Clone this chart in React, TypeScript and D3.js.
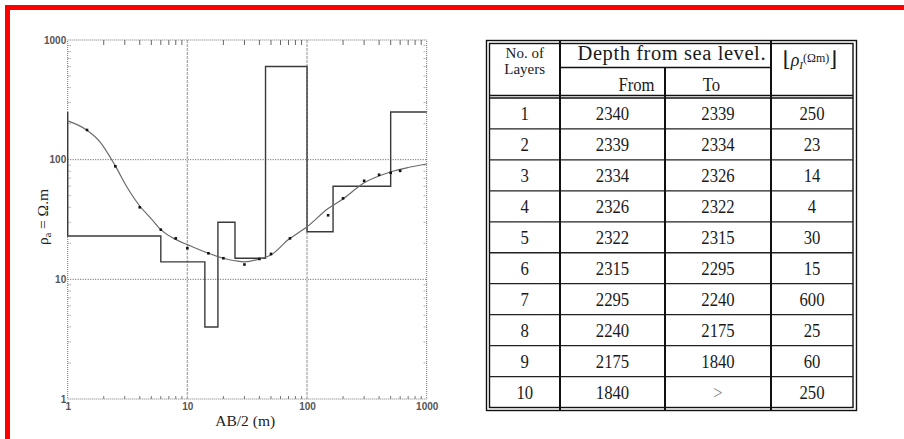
import React, { useEffect, useRef } from "react";
import * as d3 from "d3";

// layer table (interpreted model)
const layerNo = [1, 2, 3, 4, 5, 6, 7, 8, 9, 10];
const depthFrom = [2340, 2339, 2334, 2326, 2322, 2315, 2295, 2240, 2175, 1840];
const depthTo = ["2339", "2334", "2326", "2322", "2315", "2295", "2240", "2175", "1840", ">"];
const layerRho = [250, 23, 14, 4, 30, 15, 600, 25, 60, 250];

// fitted sounding curve
const curveAB = [1, 1.44, 1.86, 2.48, 3.1, 4, 5, 6, 8, 10, 15, 20, 25, 30, 40, 50, 70, 100, 150, 200, 300, 500, 700, 1000];
const curveRho = [211, 177, 141, 90, 60, 41, 32, 26, 21.5, 19.5, 16.5, 15, 14.3, 14, 14.8, 16, 21.5, 27.5, 39, 47, 64, 79, 86, 92];

// field readings
const obsAB = [1.45, 2.5, 4, 6, 8, 10, 15, 20, 30, 40, 50, 72, 150, 200, 300, 400, 500, 600];
const obsRho = [177, 88, 40, 26, 22, 18.2, 16.5, 15, 13.3, 14.8, 16.3, 22, 34.3, 47.5, 66.6, 74.8, 77.7, 80.7];

const decadeTicks = [1, 10, 100, 1000];

const App: React.FC = () => {
  const svgRef = useRef<SVGSVGElement | null>(null);

  useEffect(() => {
    if (!svgRef.current) return;
    const svg = d3.select(svgRef.current);
    svg.selectAll("*").remove();

    // red frame round the slide
    svg
      .append("rect")
      .attr("x", 7.5)
      .attr("y", 7.5)
      .attr("width", 1000)
      .attr("height", 1000)
      .attr("fill", "none")
      .attr("stroke", "#ff0000")
      .attr("stroke-width", 5);

    // ---------- sounding chart ----------
    const left = 67.7;
    const right = 426.7;
    const top = 40;
    const bottom = 399;

    const x = d3.scaleLog().domain([1, 1000]).range([left, right]);
    const y = d3.scaleLog().domain([1, 1000]).range([bottom, top]);

    const chart = svg.append("g");

    // grid
    chart
      .selectAll(".hgrid")
      .data([10, 100])
      .join("line")
      .attr("class", "hgrid")
      .attr("x1", left)
      .attr("x2", right)
      .attr("y1", (d) => y(d))
      .attr("y2", (d) => y(d))
      .attr("stroke", "#555")
      .attr("stroke-width", 1)
      .attr("stroke-dasharray", "1,1.5");

    chart
      .selectAll(".vgrid")
      .data([10, 100])
      .join("line")
      .attr("class", "vgrid")
      .attr("x1", (d) => x(d))
      .attr("x2", (d) => x(d))
      .attr("y1", top)
      .attr("y2", bottom)
      .attr("stroke", "#b0b0b0")
      .attr("stroke-width", 1.4)
      .attr("stroke-dasharray", "3,1");

    // dotted frame
    chart
      .append("rect")
      .attr("x", left)
      .attr("y", top)
      .attr("width", right - left)
      .attr("height", bottom - top)
      .attr("fill", "none")
      .attr("stroke", "#777")
      .attr("stroke-width", 1)
      .attr("stroke-dasharray", "1,1");

    // minor ticks
    const isDecade = (d: number) => Math.abs(Math.log10(d) - Math.round(Math.log10(d))) < 1e-9;
    const minorX = x.ticks().filter((d) => !isDecade(d));
    const minorY = y.ticks().filter((d) => !isDecade(d));

    chart
      .selectAll(".xminb")
      .data(minorX)
      .join("line")
      .attr("class", "xminb")
      .attr("x1", (d) => x(d))
      .attr("x2", (d) => x(d))
      .attr("y1", bottom)
      .attr("y2", bottom - 3)
      .attr("stroke", "#777");

    chart
      .selectAll(".xmint")
      .data(minorX)
      .join("line")
      .attr("class", "xmint")
      .attr("x1", (d) => x(d))
      .attr("x2", (d) => x(d))
      .attr("y1", top)
      .attr("y2", top + 5)
      .attr("stroke", "#666");

    chart
      .selectAll(".yminl")
      .data(minorY)
      .join("line")
      .attr("class", "yminl")
      .attr("x1", left)
      .attr("x2", left + 4)
      .attr("y1", (d) => y(d))
      .attr("y2", (d) => y(d))
      .attr("stroke", "#888")
      .attr("stroke-dasharray", "1,1");

    chart
      .selectAll(".yminr")
      .data(minorY)
      .join("line")
      .attr("class", "yminr")
      .attr("x1", right)
      .attr("x2", right - 4)
      .attr("y1", (d) => y(d))
      .attr("y2", (d) => y(d))
      .attr("stroke", "#888")
      .attr("stroke-dasharray", "1,1");

    // layered model as steps, boundaries from the table depths
    const stepPts: [number, number][] = layerRho.map((rho, i) => [
      Math.max(depthFrom[0] - depthFrom[i], 1),
      rho,
    ]);
    stepPts.push([1000, layerRho[layerRho.length - 1]]);

    const stepLine = d3
      .line<[number, number]>()
      .curve(d3.curveStepAfter)
      .x((d) => x(d[0]))
      .y((d) => y(d[1]));

    chart
      .append("path")
      .datum(stepPts)
      .attr("fill", "none")
      .attr("stroke", "#3a3a3a")
      .attr("stroke-width", 1.4)
      .attr("d", stepLine);

    // fitted curve
    const curvePts: [number, number][] = curveAB.map((ab, i) => [ab, curveRho[i]]);
    const smooth = d3
      .line<[number, number]>()
      .curve(d3.curveMonotoneX)
      .x((d) => x(d[0]))
      .y((d) => y(d[1]));

    chart
      .append("path")
      .datum(curvePts)
      .attr("fill", "none")
      .attr("stroke", "#6a6a6a")
      .attr("stroke-width", 1.2)
      .attr("d", smooth);

    // observed points
    chart
      .selectAll(".obs")
      .data(obsAB.map((ab, i) => [ab, obsRho[i]]))
      .join("rect")
      .attr("class", "obs")
      .attr("x", (d) => x(d[0]) - 1.3)
      .attr("y", (d) => y(d[1]) - 1.3)
      .attr("width", 2.6)
      .attr("height", 2.6)
      .attr("fill", "#111");

    // tick labels
    const fmt = d3.format("d");
    const sans = "'Liberation Sans', Arial, sans-serif";
    chart
      .append("g")
      .attr("transform", `translate(0,${bottom})`)
      .call(d3.axisBottom(x).tickValues(decadeTicks).tickFormat((d) => fmt(d as number)).tickSize(0).tickPadding(4))
      .call((g) => g.select(".domain").remove())
      .call((g) =>
        g
          .selectAll("text")
          .attr("font-family", sans)
          .attr("font-size", 10)
          .attr("font-weight", "bold")
          .attr("fill", "#555")
      );

    chart
      .append("g")
      .attr("transform", `translate(${left},0)`)
      .call(d3.axisLeft(y).tickValues(decadeTicks).tickFormat((d) => fmt(d as number)).tickSize(0).tickPadding(1.5))
      .call((g) => g.select(".domain").remove())
      .call((g) =>
        g
          .selectAll("text")
          .attr("font-family", sans)
          .attr("font-size", 10)
          .attr("font-weight", "bold")
          .attr("fill", "#555")
      );

    // axis titles
    const serif = "'Liberation Serif', 'Times New Roman', serif";
    chart
      .append("text")
      .attr("x", (left + right) / 2 - 2)
      .attr("y", 426)
      .attr("text-anchor", "middle")
      .attr("font-family", serif)
      .attr("font-size", 15.5)
      .attr("fill", "#222")
      .text("AB/2 (m)");

    const yTitle = chart
      .append("text")
      .attr("transform", "translate(48,217) rotate(-90)")
      .attr("text-anchor", "middle")
      .attr("font-family", serif)
      .attr("font-size", 15.5)
      .attr("fill", "#222");
    yTitle.append("tspan").text("ρ");
    yTitle.append("tspan").attr("font-size", 10).attr("dy", 3).text("a");
    yTitle.append("tspan").attr("dy", -3).text(" = Ω.m");

    // ---------- layer table ----------
    const tbl = svg.append("g");
    const colEdges = [489.5, 560, 665, 771, 853];
    const headTop = 43.5;
    const headMid = 67.5;
    const headBottom = 98;
    const tblBottom = 407.5;

    const row = d3.scaleBand<number>().domain(layerNo).range([headBottom, tblBottom]);

    // outer double border
    tbl
      .append("rect")
      .attr("x", 486.5)
      .attr("y", 40.5)
      .attr("width", 856.5 - 486.5)
      .attr("height", 410.5 - 40.5)
      .attr("fill", "none")
      .attr("stroke", "#111")
      .attr("stroke-width", 1.4);
    tbl
      .append("rect")
      .attr("x", colEdges[0])
      .attr("y", headTop)
      .attr("width", colEdges[4] - colEdges[0])
      .attr("height", tblBottom - headTop)
      .attr("fill", "none")
      .attr("stroke", "#111")
      .attr("stroke-width", 1.4);

    // header rules
    tbl
      .append("line")
      .attr("x1", colEdges[1])
      .attr("x2", colEdges[3])
      .attr("y1", headMid)
      .attr("y2", headMid)
      .attr("stroke", "#111")
      .attr("stroke-width", 1.3);
    tbl
      .selectAll(".hb")
      .data([95.5, headBottom])
      .join("line")
      .attr("class", "hb")
      .attr("x1", colEdges[0])
      .attr("x2", colEdges[4])
      .attr("y1", (d) => d)
      .attr("y2", (d) => d)
      .attr("stroke", "#111")
      .attr("stroke-width", 1.3);

    // row rules
    tbl
      .selectAll(".rr")
      .data(layerNo.slice(0, -1))
      .join("line")
      .attr("class", "rr")
      .attr("x1", colEdges[0])
      .attr("x2", colEdges[4])
      .attr("y1", (d) => (row(d) ?? 0) + row.bandwidth())
      .attr("y2", (d) => (row(d) ?? 0) + row.bandwidth())
      .attr("stroke", "#222")
      .attr("stroke-width", 1.3);

    // column rules
    tbl
      .selectAll(".cr")
      .data([
        { x: colEdges[1], y1: headTop - 3, y2: tblBottom + 3 },
        { x: colEdges[2], y1: headMid, y2: tblBottom + 3 },
        { x: colEdges[3], y1: headTop - 3, y2: tblBottom + 3 },
      ])
      .join("line")
      .attr("class", "cr")
      .attr("x1", (d) => d.x)
      .attr("x2", (d) => d.x)
      .attr("y1", (d) => d.y1)
      .attr("y2", (d) => d.y2)
      .attr("stroke", "#111")
      .attr("stroke-width", 2);

    // text squeezed horizontally like the scanned table
    const squeezed = (tx: number, ty: number, size: number, s: string, sx = 0.88) =>
      tbl
        .append("text")
        .attr("transform", `translate(${tx},${ty}) scale(${sx},1)`)
        .attr("text-anchor", "middle")
        .attr("font-family", serif)
        .attr("font-size", size)
        .attr("fill", "#1a1a1a")
        .text(s);

    squeezed(524.7, 58, 15, "No. of", 1);
    squeezed(524.7, 74, 15, "Layers", 1);
    squeezed(671.5, 60, 20.5, "Depth from sea level.", 1).attr("textLength", 188).attr("lengthAdjust", "spacing");
    squeezed(636.5, 90.5, 19, "From");
    squeezed(711.5, 90.5, 19, "To");

    const rhoHead = tbl
      .append("text")
      .attr("x", 810)
      .attr("y", 66)
      .attr("text-anchor", "middle")
      .attr("font-family", serif)
      .attr("fill", "#1a1a1a");
    rhoHead.append("tspan").attr("font-size", 21).attr("font-family", "'DejaVu Serif', serif").text("⌊");
    rhoHead.append("tspan").attr("font-size", 18).attr("font-style", "italic").text("ρ");
    rhoHead.append("tspan").attr("font-size", 11).attr("font-style", "italic").attr("dy", 3).text("I");
    rhoHead.append("tspan").attr("font-size", 12).attr("dy", -7).text("(Ωm)");
    rhoHead.append("tspan").attr("font-size", 21).attr("dy", 4).attr("font-family", "'DejaVu Serif', serif").text("⌋");

    // body cells
    const colCenter = (c: number) => (colEdges[c] + colEdges[c + 1]) / 2;
    const cells = layerNo.flatMap((n, i) => [
      { c: 0, n, s: String(n) },
      { c: 1, n, s: String(depthFrom[i]) },
      { c: 2, n, s: depthTo[i] },
      { c: 3, n, s: String(layerRho[i]) },
    ]);
    tbl
      .selectAll(".cell")
      .data(cells)
      .join("text")
      .attr("class", "cell")
      .attr("transform", (d) => `translate(${colCenter(d.c)},${(row(d.n) ?? 0) + row.bandwidth() / 2 + 7}) scale(0.88,1)`)
      .attr("text-anchor", "middle")
      .attr("font-family", serif)
      .attr("font-size", 19)
      .attr("fill", (d) => (d.s === ">" ? "#888" : "#1a1a1a"))
      .text((d) => d.s);

    return () => {
      svg.selectAll("*").remove();
    };
  }, []);

  return (
    <svg
      ref={svgRef}
      width={904}
      height={439}
      style={{ position: "absolute", left: 0, top: 0, background: "#fff" }}
    />
  );
};

export default App;
